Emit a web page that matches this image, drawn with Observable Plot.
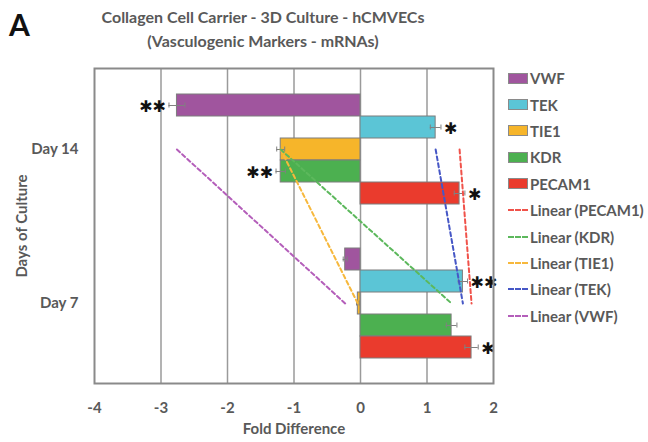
<!DOCTYPE html>
<html>
<head>
<meta charset="utf-8">
<script src="https://cdn.jsdelivr.net/npm/d3@7"></script>
<script src="https://cdn.jsdelivr.net/npm/@observablehq/plot@0.6"></script>
<style>
  body { margin: 0; background: #fff; }
  #wrap { position: relative; width: 648px; height: 442px; overflow: hidden; font-family: Lato, "Open Sans", sans-serif; color: #595959; }
  #panel { position: absolute; left: 9px; top: 6px; font-size: 30px; font-weight: bold; color: #111; }
  #title { position: absolute; left: 0; width: 526px; top: 5px; text-align: center; font-size: 16px; font-weight: bold; line-height: 24px; color: #595959; }
  #legend { position: absolute; left: 508px; top: 65px; font-size: 15px; font-weight: bold; color: #595959; }
  .row { height: 26.4px; display: flex; align-items: center; white-space: nowrap; }
  .sw { width: 18px; height: 9px; border: 1px solid #8a8a8a; margin-right: 2px; }
  .dash { width: 20px; height: 0; border-top: 2px dashed; margin-right: 2px; }
  #chart { position: absolute; left: 0; top: 0; }
</style>
</head>
<body>
<div id="wrap">
  <div id="chart"></div>
  <div id="panel">A</div>
  <div id="title">Collagen Cell Carrier - 3D Culture - hCMVECs<br>(Vasculogenic Markers - mRNAs)</div>
  <div id="legend"></div>
</div>
<script>
// ---- data ----
const days = ["Day 14", "Day 7"];
const genes = ["VWF", "TEK", "TIE1", "KDR", "PECAM1"];
const day14Values = [-2.76, 1.13, -1.20, -1.20, 1.49];
const day7Values = [-0.23, 1.54, -0.04, 1.37, 1.67];
const day14Errors = [0.12, 0.08, 0.06, 0.07, 0.08];
const day7Errors = [0.03, 0.07, 0.02, 0.08, 0.10];
const day14Signif = ["**", "*", "", "**", "*"];
const day7Signif = ["", "**", "", "", "*"];
const xTicks = [-4, -3, -2, -1, 0, 1, 2];
const barColors = ["#A0559E", "#5BC5D6", "#F6B52A", "#4CB050", "#EA3B2D"];
const trendColors = ["#B45EBA", "#4657C6", "#F7B83C", "#5CB85C", "#F0524A"];
const trendOrder = ["PECAM1", "KDR", "TIE1", "TEK", "VWF"];

// ---- table ----
const valuesByDay = [day14Values, day7Values];
const errorsByDay = [day14Errors, day7Errors];
const signifByDay = [day14Signif, day7Signif];
const rows = days.flatMap((day, di) => genes.map((gene, gi) => ({
  day, gene, key: day + "|" + gene,
  value: valuesByDay[di][gi], err: errorsByDay[di][gi], sig: signifByDay[di][gi]
})));
const yDomain = [
  ...genes.map(g => days[0] + "|" + g),
  "gap|a", "gap|b",
  ...genes.map(g => days[1] + "|" + g)
];
const star = s => s.replace(/\*/g, "\u2731");
const end = d => d.value < 0 ? d.value - d.err : d.value + d.err;

const marks = [
  Plot.ruleX(xTicks.slice(1, -1), {stroke: "#9a9a9a", strokeWidth: 1.5}),
  Plot.barX(rows, {y: "key", x1: () => 0, x2: "value", fill: "gene", stroke: "#7d7d7d", strokeWidth: 1}),
  Plot.ruleY(rows, {y: "key", x1: d => d.value - d.err, x2: d => d.value + d.err, stroke: "#808080", strokeWidth: 1}),
  Plot.tickX(rows, {y: "key", x: d => d.value - d.err, stroke: "#808080", insetTop: 8.5, insetBottom: 8.5}),
  Plot.tickX(rows, {y: "key", x: d => d.value + d.err, stroke: "#808080", insetTop: 8.5, insetBottom: 8.5}),
  ...genes.map((g, i) => Plot.line(rows.filter(d => d.gene === g), {
    x: "value", y: d => d.day + "|TIE1",
    stroke: trendColors[i], strokeWidth: 2, strokeDasharray: "4,3"
  })),
  Plot.text(rows.filter(d => d.sig && d.value < 0), {
    y: "key", x: end, text: d => star(d.sig), textAnchor: "end", dx: -3, dy: 1,
    fill: "#111", fontSize: 16, fontFamily: "DejaVu Sans", fontWeight: "bold"
  }),
  Plot.text(rows.filter(d => d.sig && d.value > 0), {
    y: "key", x: end, text: d => star(d.sig), textAnchor: "start", dx: 3, dy: 1,
    fill: "#111", fontSize: 16, fontFamily: "DejaVu Sans", fontWeight: "bold"
  }),
  Plot.frame({stroke: "#8a8a8a", strokeWidth: 2})
];

const chart = Plot.plot({
  width: 648,
  height: 442,
  marginTop: 68,
  marginBottom: 59,
  marginLeft: 94,
  marginRight: 155,
  style: {fontFamily: "Lato, 'Open Sans', sans-serif", fontSize: "15px", fontWeight: "bold", color: "#595959", background: "transparent"},
  x: {domain: [-4, 2], ticks: xTicks, tickSize: 0, tickPadding: 19, tickFormat: d => String(d),
      label: "Fold Difference", labelAnchor: "center", labelOffset: 50, labelArrow: "none"},
  y: {domain: yDomain, paddingInner: 0, paddingOuter: 1, tickSize: 0, tickPadding: 16,
      tickFormat: d => d.endsWith("|TIE1") ? d.split("|")[0] : "",
      label: "Days of Culture", labelAnchor: "center", labelOffset: 78, labelArrow: "none"},
  color: {domain: genes, range: barColors},
  marks
});
document.getElementById("chart").appendChild(chart);

// ---- legend ----
const legend = document.getElementById("legend");
genes.forEach((g, i) => {
  const r = document.createElement("div");
  r.className = "row";
  r.innerHTML = `<span class="sw" style="background:${barColors[i]}"></span><span>${g}</span>`;
  legend.appendChild(r);
});
trendOrder.forEach(g => {
  const c = trendColors[genes.indexOf(g)];
  const r = document.createElement("div");
  r.className = "row";
  r.innerHTML = `<span class="dash" style="border-color:${c}"></span><span>Linear (${g})</span>`;
  legend.appendChild(r);
});
</script>
</body>
</html>
